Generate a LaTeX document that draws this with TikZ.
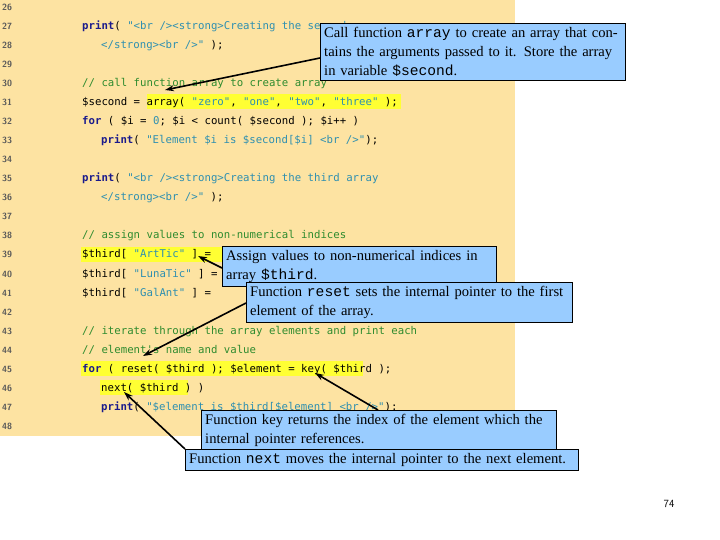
\documentclass[tikz,border=0pt]{standalone}
\usepackage{fontspec}
\setmainfont{Liberation Serif}
\setmonofont{DejaVu Sans Mono}
\newfontfamily\boxmono{Liberation Mono}
\usetikzlibrary{arrows.meta}
\definecolor{panel}{HTML}{FDE3A2}
\definecolor{kwblue}{HTML}{1A1A8C}
\definecolor{litblue}{HTML}{2E8FB0}
\definecolor{cmgreen}{HTML}{2E8B2E}
\definecolor{callout}{HTML}{99CCFF}
\definecolor{mark}{HTML}{FFFF33}
\newcommand\kw[1]{{\color{kwblue}\bfseries #1}}
\newcommand\lit[1]{{\color{litblue}#1}}
\newcommand\cm[1]{{\color{cmgreen}#1}}
\newcommand\nohyph{\hyphenpenalty=10000 \exhyphenpenalty=10000 }
\tikzset{
  codeline/.style={anchor=base west,inner sep=0pt,font=\ttfamily\fontsize{10.7}{12}\selectfont},
  lineno/.style={anchor=base west,inner sep=0pt,text=black!65,font=\sffamily\bfseries\fontsize{9}{11}\selectfont},
  hilite/.style={fill=mark},
  calloutbox/.style={draw=black,fill=callout,anchor=north west,align=left,inner sep=4pt,
    font=\fontsize{14.6}{19}\selectfont},
  pointer/.style={-{Stealth[length=9pt,width=6pt]},line width=1.6pt}
}
\begin{document}
\begin{tikzpicture}[x=1pt,y=-1pt]
\useasboundingbox (0,0) rectangle (720,540);
\fill[panel] (0,0) rectangle (515,436);
% yellow marks behind the highlighted code
\fill[hilite] (147,94) rectangle (401,109);
\fill[hilite] (81,247) rectangle (230,262);
\fill[hilite] (81,361) rectangle (363,376);
\fill[hilite] (100,380) rectangle (188,395);
% line numbers 26..48
\foreach \n in {26,...,48}
  \node[lineno] (n\n) at (2,{11+(\n-26)*19}) {\n};
% code
\node[codeline] (c27) at (82,30) {\kw{print}( \lit{"<br /><strong>Creating the second array}};
\node[codeline] (c28) at (101,49) {\lit{</strong><br />"} );};
\node[codeline] (c30) at (82,87) {\cm{// call function array to create array}};
\node[codeline] (c31) at (82,106) {\$second = array( \lit{"zero"}, \lit{"one"}, \lit{"two"}, \lit{"three"} );};
\node[codeline] (c32) at (82,125) {\kw{for} ( \$i = \lit{0}; \$i < count( \$second ); \$i++ )};
\node[codeline] (c33) at (101,144) {\kw{print}( \lit{"Element \$i is \$second[\$i] <br />"});};
\node[codeline] (c35) at (82,182) {\kw{print}( \lit{"<br /><strong>Creating the third array}};
\node[codeline] (c36) at (101,201) {\lit{</strong><br />"} );};
\node[codeline] (c38) at (82,239) {\cm{// assign values to non-numerical indices}};
\node[codeline] (c39) at (82,258) {\$third[ \lit{"ArtTic"} ] = };
\node[codeline] (c40) at (82,277) {\$third[ \lit{"LunaTic"} ] = };
\node[codeline] (c41) at (82,296) {\$third[ \lit{"GalAnt"} ] = };
\node[codeline] (c43) at (82,334) {\cm{// iterate through the array elements and print each}};
\node[codeline] (c44) at (82,353) {\cm{// element's name and value}};
\node[codeline] (c45) at (82,372) {\kw{for} ( reset( \$third ); \$element = key( \$third );};
\node[codeline] (c46) at (101,391) {next( \$third ) )};
\node[codeline] (c47) at (101,410) {\kw{print}( \lit{"\$element is \$third[\$element] <br />"});};
% callouts
\node[calloutbox,text width=297pt] (callArray) at (320,23)
  {\nohyph Call function {\boxmono array} to create an array that contains the arguments passed to it. Store the array in variable {\boxmono \$second}.};
\node[calloutbox,text width=266pt] (assignIdx) at (222,246)
  {\nohyph Assign values to non-numerical indices in array {\boxmono \$third}.};
\node[calloutbox,text width=318pt] (resetFn) at (246,282)
  {\nohyph Function {\boxmono reset} sets the internal pointer to the first element of the array.};
\node[calloutbox,text width=347pt] (keyFn) at (201,410)
  {\nohyph Function key returns the index of the element which the internal pointer references.};
\node[calloutbox,text width=385pt] (nextFn) at (185,449)
  {\nohyph Function {\boxmono next} moves the internal pointer to the next element.};
\coordinate (tArray) at (165,90);
\coordinate (tAssign) at (198,256);
\coordinate (tReset) at (143,356);
\coordinate (tKey) at (315,373);
\coordinate (tNext) at (124,392);
\draw[pointer] (callArray.west |- 0,58) -- (tArray);
\draw[pointer] (assignIdx.west |- 0,268) -- (tAssign);
\draw[pointer] (resetFn.west |- 0,303) -- (tReset);
\draw[pointer] (378,410) -- (tKey);
\draw[pointer] (nextFn.north west) -- (tNext);
\node[font=\sffamily\fontsize{11}{13}\selectfont] (page) at (669,504) {74};
\end{tikzpicture}
\end{document}
